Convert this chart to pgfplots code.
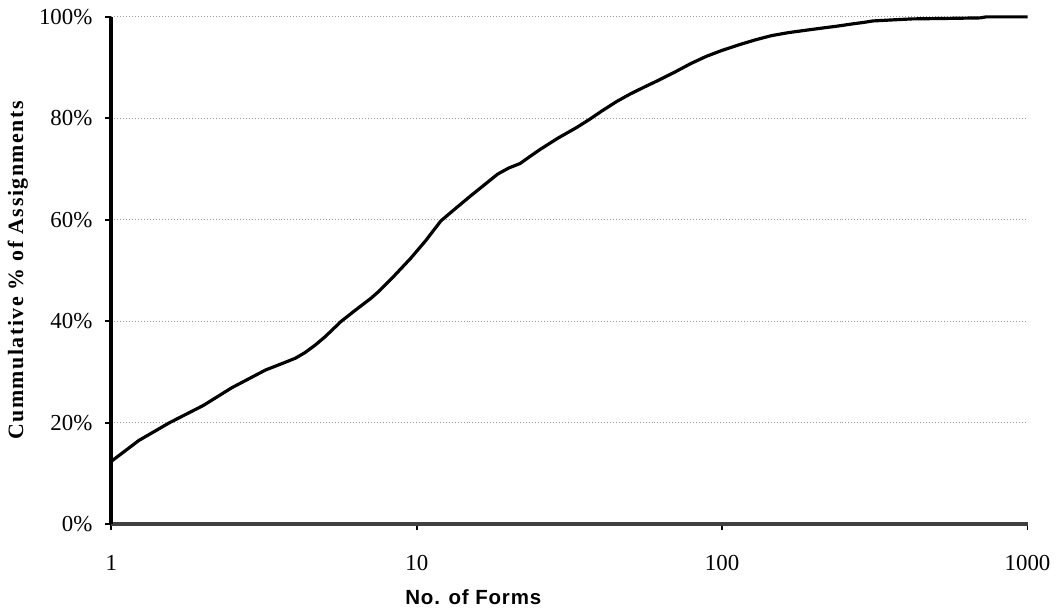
\documentclass[border=0pt]{standalone}
\usepackage{fontspec}
\setmainfont{Liberation Serif}
\newfontfamily\arialfont{Liberation Sans}
\usepackage{pgfplots}
\pgfplotsset{compat=1.18}

\pgfplotstableread{
x y
1 12.4
1.23 16.5
1.55 20.0
2.0 23.4
2.48 26.9
3.2 30.4
3.6 31.6
4.0 32.7
4.3 33.8
4.65 35.3
5.0 36.9
5.66 40.0
6.3 42.2
7.07 44.5
7.45 45.7
8.3 48.5
9.55 52.4
10.7 55.9
12.0 59.8
13.5 62.4
15.0 64.7
16.5 66.7
18.4 69.0
20.0 70.2
21.8 71.1
23.5 72.5
25.4 73.9
29.0 76.1
33.4 78.2
36.8 79.8
40.5 81.5
45.1 83.3
50.0 84.8
55.3 86.1
60.9 87.3
69.4 89.0
79.0 90.8
88.6 92.2
100 93.4
115 94.6
129 95.5
145 96.3
165 96.9
190 97.4
213 97.8
240 98.2
266 98.6
290 98.9
312 99.2
360 99.4
418 99.6
550 99.7
700 99.8
733 100
1000 100
}\cumdata

\begin{document}
\begin{tikzpicture}
\begin{axis}[
    scale only axis,
    width=460.5pt,
    height=255pt,
    xmode=log,
    xmin=1, xmax=1000,
    ymin=0, ymax=100,
    xtick={1,10,100,1000},
    xticklabels={1,10,100,1000},
    xminorticks=false,
    ytick={0,20,40,60,80,100},
    yticklabels={0\%,20\%,40\%,60\%,80\%,100\%},
    tick label style={font=\fontsize{11.5}{13}\selectfont},
    xticklabel style={yshift=-9pt},
    yticklabel style={xshift=-3pt},
    axis x line*=bottom,
    axis y line*=left,
    axis line style={-},
    x axis line style={draw=black!75, line width=2pt},
    y axis line style={draw=black, line width=2pt},
    tick align=outside,
    major tick length=3pt,
    tick style={black, line width=1pt},
    ymajorgrids=true,
    major grid style={draw=black!40, line width=0.5pt, densely dotted},
    xlabel={\arialfont\bfseries\addfontfeature{LetterSpace=4}No. of Forms},
    xlabel style={font=\fontsize{10.3}{12}\selectfont, at={(axis description cs:0.395,-0.143)}, anchor=center},
    ylabel={\bfseries\addfontfeature{LetterSpace=7}Cummulative \% of Assignments},
    ylabel style={font=\fontsize{11}{13}\selectfont, at={(axis description cs:-0.102,0.5)}, anchor=center, rotate=0},
    clip=false,
]
\addplot[black, line width=1.6pt, line join=round] table[x=x, y=y] {\cumdata};
\path (axis description cs:-0.1216,-0.1686) rectangle (axis description cs:1.0261,1.0333);
\end{axis}
\end{tikzpicture}
\end{document}
